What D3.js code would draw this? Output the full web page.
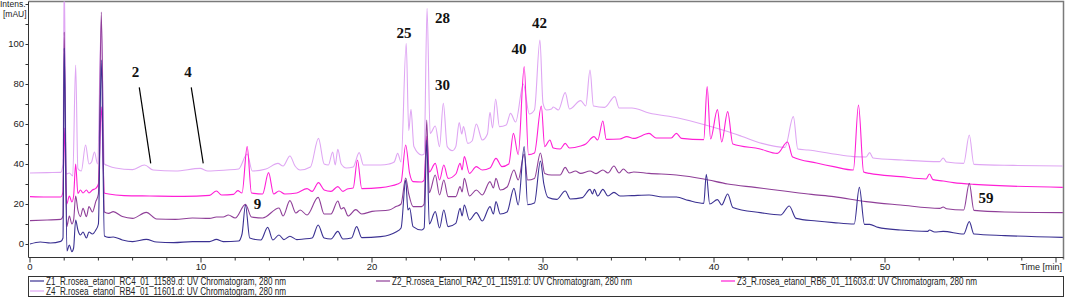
<!DOCTYPE html>
<html>
<head>
<meta charset="utf-8">
<script src="https://cdn.jsdelivr.net/npm/d3@7/dist/d3.min.js"></script>
<style>
  body { margin: 0; background: #fff; }
  svg { display: block; font-family: Arial, "Liberation Sans", sans-serif; }
</style>
</head>
<body>
<div id="chart"></div>
<script>
// legend names, in the order of the legend box
const seriesNames = [
    "Z1_R.rosea_etanol_RC4_01_11589.d: UV Chromatogram, 280 nm",
    "Z2_R.rosea_Etanol_RA2_01_11591.d: UV Chromatogram, 280 nm",
    "Z3_R.rosea_etanol_RB6_01_11603.d: UV Chromatogram, 280 nm",
    "Z4_R.rosea_etanol_RB4_01_11601.d: UV Chromatogram, 280 nm"
]
const seriesColors = ["#3b3192", "#8f3f98", "#ff1fd6", "#dfa6f3"]

// [time (min), intensity (mAU)]
const z1 = [[0,0],[0.6,1],[1.2,0.5],[1.8,1.3],[1.93,3],[2.0,98],[2.16,-3.5],[2.3,-0.5],[2.45,-3.8],[2.55,-2],[2.67,12],[2.8,7],[2.95,4.5],[3.1,6],[3.3,3],[3.45,6],[3.65,5],[3.85,7],[4.0,10],[4.17,92],[4.35,4],[4.6,3.3],[4.87,3.5],[5.4,2],[6.0,1.2],[6.8,2.3],[7.4,1],[8.4,0.7],[9.5,1.2],[10.5,1.2],[10.9,2.3],[11.3,1.2],[12.2,1.5],[12.4,5],[12.6,19.5],[12.85,3],[13.5,2],[13.9,8.3],[14.2,2],[14.56,4.5],[14.85,2.2],[15.2,3.9],[15.6,2.2],[16.0,2.5],[16.5,3],[16.85,9.5],[17.2,3],[17.6,2.5],[18.0,6.3],[18.3,2.5],[18.8,3],[19.1,8.7],[19.4,3.2],[20.5,3.7],[21.0,4.5],[21.4,6],[21.7,8],[21.97,32],[22.1,17],[22.2,18],[22.4,8.7],[22.9,7],[23.05,8],[23.2,52],[23.35,10],[23.7,16.2],[23.95,8],[24.2,17],[24.45,8.7],[24.9,10.3],[25.15,17.8],[25.27,14],[25.4,19.5],[25.7,12],[26.1,15.7],[26.45,11.5],[26.9,18.7],[27.1,15],[27.25,21.2],[27.5,15],[27.9,16],[28.3,27.8],[28.55,19.5],[28.9,48.7],[29.1,19.7],[29.5,20.5],[29.85,41.5],[30.05,30],[30.3,23.2],[30.8,22.3],[31.3,26.5],[31.6,22.5],[32.3,23.2],[32.75,27.3],[32.9,25],[33.0,27.3],[33.2,24],[33.5,27.3],[33.8,24],[34.15,25.8],[34.5,24],[35.2,24.2],[36.2,24.5],[37.0,23.5],[37.8,23.5],[38.5,21.8],[39.4,20.3],[39.55,34.8],[39.75,20],[40.2,22.2],[40.45,19.5],[40.8,25],[41.1,18.3],[42.7,15.7],[43.9,14.5],[44.4,19],[44.8,12.8],[46.0,11.5],[47.0,10.7],[48.2,10],[48.5,28.3],[48.8,9.8],[49.1,9.8],[49.6,8.3],[50.9,7],[52.5,6.3],[52.6,7],[52.9,6],[53.4,6.3],[54.6,5],[54.93,11.2],[55.2,5],[57,4.2],[60.4,3.3]]

const z2 = [[0,11.7],[1.0,12],[1.8,12.3],[1.93,14],[2.0,106],[2.15,8.7],[2.3,14],[2.45,10],[2.55,12],[2.67,24],[2.8,17],[2.95,13.7],[3.1,17.8],[3.3,13.7],[3.45,18.7],[3.65,16],[3.85,21.3],[4.0,25],[4.17,116],[4.35,16],[4.6,15.3],[4.87,16.2],[5.4,13.7],[6.0,12.8],[6.8,15.8],[7.4,12.5],[8.5,12.3],[9.5,13],[10.5,12.8],[10.9,13.5],[11.3,13.5],[11.6,14.5],[12.0,13],[12.6,19.8],[12.95,13.5],[13.6,13],[14.56,18],[14.8,14],[15.2,21.7],[15.55,15.5],[15.8,17],[16.2,14.5],[16.85,23.3],[17.2,15],[17.6,15],[18.0,21.5],[18.2,17.5],[18.35,18.2],[18.6,14],[19.05,17.2],[19.4,15],[20.0,16.3],[21.0,17],[21.4,18.7],[21.7,20],[21.97,33],[22.15,25],[22.4,18.7],[22.9,18.7],[23.05,20],[23.2,62],[23.35,25.7],[23.7,34.5],[23.95,24.5],[24.2,32],[24.45,23.7],[24.9,23.7],[25.15,28.7],[25.27,26],[25.4,32.8],[25.7,24],[26.1,27],[26.45,24.5],[26.9,31.2],[27.1,28],[27.25,32.8],[27.5,27],[27.9,28.5],[28.3,37],[28.55,32],[28.9,45],[29.1,32],[29.5,32.8],[29.85,45.5],[30.1,35.3],[30.5,34.5],[31.0,34.5],[31.3,38.3],[31.55,35.5],[31.9,36.5],[32.2,35.3],[32.75,36.5],[33.1,35.2],[33.5,37],[33.8,35.5],[34.15,39],[34.45,35.5],[34.7,37.5],[35.0,35.5],[35.3,36],[36.2,35.3],[37.8,34.5],[39.4,32.5],[40.8,30],[42.4,28.3],[44.1,26.5],[45.7,24.8],[47.0,23.7],[48.9,21.2],[50.9,19.5],[53.2,17.8],[53.4,18.5],[53.6,17.6],[54.6,17],[54.93,30.3],[55.2,16.8],[57.0,16],[60.4,15.7]]

const z3 = [[0,23.7],[1.0,23.5],[1.8,23.5],[1.93,26],[2.0,58],[2.15,20],[2.3,24],[2.45,21],[2.55,24],[2.67,40],[2.8,25.3],[2.95,27],[3.1,25.5],[3.3,27],[3.45,25.5],[3.65,27],[3.85,27.8],[4.0,30],[4.17,68.6],[4.35,25.5],[4.6,25],[5.5,24.2],[7.0,24],[9.0,23.8],[10.5,24.3],[10.9,26.5],[11.2,24.5],[11.9,24.8],[12.15,26.7],[12.4,25.5],[12.7,48.7],[12.95,25.5],[13.6,25],[13.95,35.7],[14.25,25],[14.56,26.5],[14.9,25],[15.6,25.5],[16.2,27.7],[16.5,26.3],[16.87,30.7],[17.2,27],[17.6,26.3],[18.0,28.7],[18.3,26.3],[18.55,27.5],[18.9,28],[19.15,42],[19.4,27.7],[20.5,28.2],[21.5,30],[21.7,31],[21.97,49.5],[22.2,35.3],[22.4,31.2],[22.9,31],[23.05,32],[23.2,53.7],[23.35,36],[23.7,40.3],[23.95,32],[24.2,39.5],[24.45,32.8],[24.9,35],[25.15,40.3],[25.27,37],[25.4,43.7],[25.7,35.3],[26.1,38.7],[26.45,37],[26.9,38],[27.25,42.8],[27.6,38.7],[28.0,40],[28.27,55.3],[28.55,44.7],[28.9,88.7],[29.15,44.7],[29.5,45.5],[29.9,69],[30.1,48.7],[30.4,52],[30.6,48],[31.0,47.5],[31.3,50.3],[31.55,48],[32.2,49],[32.5,50],[32.98,53.7],[33.2,52],[33.5,61.5],[33.7,52.3],[34.5,52.5],[34.9,53.7],[35.3,52.8],[36.2,55.3],[36.6,53],[37.5,53],[37.8,55.3],[38.1,52.8],[39.4,52.2],[39.6,78.7],[39.8,52.5],[40.2,67.2],[40.45,51],[40.8,66.2],[41.1,50],[42.7,47.5],[43.7,45.3],[44.3,51],[44.6,43.5],[46.0,40.5],[47.0,38.7],[48.15,37],[48.45,69.5],[48.75,36],[49.1,35.3],[50.9,33.7],[52.4,32.5],[52.6,35],[52.8,32.2],[53.4,31.5],[54.0,30.7],[55.2,29.8],[60.4,28.3]]

const z4 = [[0,35.5],[1.0,35.7],[1.8,35.8],[1.93,40],[2.0,135],[2.12,35],[2.3,35.5],[2.5,34],[2.67,89.5],[2.8,37.7],[3.0,36.5],[3.25,49.5],[3.45,40],[3.6,41],[3.77,46],[3.95,40],[4.17,112],[4.35,40],[4.6,39],[5.0,38],[6.0,37.2],[6.7,39.5],[7.2,37],[8.5,36.5],[9.95,37.8],[10.4,36.5],[11.5,37],[12.2,37.5],[12.7,45],[13.0,36.5],[13.8,37.5],[14.5,40.3],[14.8,39],[15.2,44],[15.5,39],[15.8,37],[16.4,38.5],[16.87,52.8],[17.2,40],[17.45,39.5],[17.7,46],[17.85,39.5],[18.0,47.3],[18.2,40],[18.5,38],[18.9,38.5],[19.25,45.7],[19.5,39.5],[20.5,39.5],[21.0,40],[21.3,41],[21.5,45.3],[21.7,41],[22.0,100.3],[22.15,56.7],[22.28,67.3],[22.45,48.7],[22.9,44.5],[23.05,45],[23.22,117.8],[23.4,55.3],[23.7,59],[23.95,48.7],[24.17,70.3],[24.4,48.7],[24.7,46.7],[24.9,48.7],[25.1,60.7],[25.25,55],[25.35,58.7],[25.6,50.3],[25.85,51.5],[26.1,60],[26.45,52],[26.75,55],[26.9,65.8],[27.05,58],[27.23,72.5],[27.45,58.7],[27.85,59.5],[28.1,65.3],[28.4,61],[28.85,80],[29.2,65],[29.5,67],[29.82,102],[30.0,70.3],[30.2,67],[30.5,67.5],[30.6,68.5],[30.9,67],[31.3,75.7],[31.55,67.5],[32.2,71.7],[32.5,69],[32.75,87],[32.95,69],[33.6,68.3],[34.2,73.7],[34.45,68],[35.2,68],[36.2,65.5],[37.9,63],[39.5,59.5],[40.8,56.2],[41.6,53.9],[42.8,50.3],[44.15,48.3],[44.64,63.7],[44.9,47.5],[45.5,47],[47.0,45],[48.15,43.7],[48.9,43.5],[49.1,45.7],[49.3,43],[51.0,42],[53.2,41.2],[53.4,43],[53.6,41],[54.6,40.3],[54.93,54.5],[55.2,39.8],[57.5,39.3],[60.4,39]]

// peak numbers: text anchor position in data units
const peakLabels = [
    {text: "2", t: 6.17, v: 83.5},
    {text: "4", t: 9.24, v: 83.5},
    {text: "9", t: 13.3, v: 17.3},
    {text: "25", t: 21.87, v: 103},
    {text: "28", t: 24.12, v: 110.5},
    {text: "30", t: 24.12, v: 77},
    {text: "40", t: 28.6, v: 94.8},
    {text: "42", t: 29.8, v: 107.8},
    {text: "59", t: 55.9, v: 20.6}
]
// pointer lines for peaks 2 and 4: [t1, v1, t2, v2]
const pointerLines = [[6.39, 78.3, 7.06, 40.3], [9.43, 78.3, 10.13, 40.3]]

const xMajorTicks = [0, 10, 20, 30, 40, 50, 60]
const xTickLabels = ["0", "10", "20", "30", "40", "50", ""]
const yMajorTicks = [0, 20, 40, 60, 80, 100]

function drawChromatogram() {
    const width = 1065, height = 298
    const plot = {left: 28.5, right: 1063.5, top: 1.5, bottom: 257.5}

    const svg = d3.select("#chart").append("svg")
        .attr("width", width)
        .attr("height", height)

    const x = d3.scaleLinear().domain([0, 60]).range([30, 1056])
    const y = d3.scaleLinear().domain([0, 100]).range([244, 44])

    svg.append("clipPath").attr("id", "plotClip")
        .append("rect")
        .attr("x", plot.left).attr("y", plot.top)
        .attr("width", plot.right - plot.left)
        .attr("height", plot.bottom - plot.top)

    // frame: top and right in gray
    svg.append("path")
        .attr("d", `M${plot.left},${plot.top}H${plot.right}V${plot.bottom + 2}`)
        .attr("fill", "none").attr("stroke", "#7a7a7a").attr("stroke-width", 1.5)

    // traces, lightest drawn first
    const series = [z1, z2, z3, z4]
    const line = d3.line()
        .x(d => x(d[0]))
        .y(d => y(d[1]))
        .curve(d3.curveMonotoneX)

    svg.append("g").attr("clip-path", "url(#plotClip)")
        .selectAll("path")
        .data([3, 2, 1, 0])
        .enter()
        .append("path")
        .attr("d", i => line(series[i]))
        .attr("fill", "none")
        .attr("stroke", i => seriesColors[i])
        .attr("stroke-width", 1.1)
        .attr("stroke-linejoin", "round")

    // y axis
    const yAxis = svg.append("g").attr("transform", `translate(${plot.left},0)`)
    yAxis.call(d3.axisLeft(y).tickValues(d3.range(0, 121, 10)).tickSize(3).tickFormat(""))
    yAxis.select(".domain").remove()
    yAxis.append("line")
        .attr("y1", plot.top).attr("y2", plot.bottom)
        .attr("stroke", "#333")
    yAxis.selectAll(".tick line").attr("stroke", "#333")
    yAxis.selectAll("text.lab")
        .data(yMajorTicks)
        .enter()
        .append("text")
        .attr("class", "lab")
        .attr("x", -4.5)
        .attr("y", d => y(d) + 3.3)
        .attr("text-anchor", "end")
        .attr("font-size", "9.5px")
        .attr("fill", "#222")
        .text(d => d)

    // x axis
    const xAxis = svg.append("g").attr("transform", `translate(0,${plot.bottom})`)
    xAxis.append("line")
        .attr("x1", plot.left).attr("x2", plot.right)
        .attr("stroke", "#333")
    xAxis.selectAll("line.minor")
        .data(d3.range(0, 61, 2).filter(d => d % 10 !== 0))
        .enter()
        .append("line")
        .attr("class", "minor")
        .attr("x1", d => x(d)).attr("x2", d => x(d))
        .attr("y1", 0).attr("y2", 3)
        .attr("stroke", "#333")
    xAxis.selectAll("line.major")
        .data(xMajorTicks)
        .enter()
        .append("line")
        .attr("class", "major")
        .attr("x1", d => x(d)).attr("x2", d => x(d))
        .attr("y1", 0).attr("y2", 5)
        .attr("stroke", "#333")
    xAxis.selectAll("text.lab")
        .data(xMajorTicks)
        .enter()
        .append("text")
        .attr("class", "lab")
        .attr("x", d => x(d))
        .attr("y", 12.5)
        .attr("text-anchor", "middle")
        .attr("font-size", "9.5px")
        .attr("fill", "#222")
        .text((d, i) => xTickLabels[i])
    xAxis.append("text")
        .attr("x", 1062).attr("y", 12.5)
        .attr("text-anchor", "end")
        .attr("font-size", "9px")
        .attr("fill", "#222")
        .text("Time [min]")

    // y title
    svg.append("text").attr("x", 0).attr("y", 6.5)
        .attr("font-size", "8.5px").attr("fill", "#222").text("Intens.")
    svg.append("text").attr("x", 3).attr("y", 17)
        .attr("font-size", "8.5px").attr("fill", "#222").text("[mAU]")

    // peak annotations
    svg.selectAll("line.pointer")
        .data(pointerLines)
        .enter()
        .append("line")
        .attr("class", "pointer")
        .attr("x1", d => x(d[0])).attr("y1", d => y(d[1]))
        .attr("x2", d => x(d[2])).attr("y2", d => y(d[3]))
        .attr("stroke", "#000").attr("stroke-width", 1.2)
    svg.selectAll("text.peak")
        .data(peakLabels)
        .enter()
        .append("text")
        .attr("class", "peak")
        .attr("x", d => x(d.t))
        .attr("y", d => y(d.v))
        .attr("text-anchor", "middle")
        .attr("font-family", "'Liberation Serif', 'Times New Roman', serif")
        .attr("font-weight", "bold")
        .attr("font-size", "15px")
        .attr("fill", "#111")
        .text(d => d.text)

    // legend box
    svg.append("rect")
        .attr("x", 28.5).attr("y", 276.5)
        .attr("width", 1035).attr("height", 20)
        .attr("fill", "none").attr("stroke", "#333")

    const legendPos = [[30, 281], [376, 281], [721, 281], [30, 291]]
    const entries = svg.selectAll("g.legend")
        .data(seriesNames)
        .enter()
        .append("g")
        .attr("class", "legend")
        .attr("transform", (d, i) => `translate(${legendPos[i][0]},${legendPos[i][1]})`)
    entries.append("line")
        .attr("x1", 0).attr("x2", 14)
        .attr("stroke", (d, i) => seriesColors[i])
        .attr("stroke-width", 1.2)
    entries.append("text")
        .attr("x", 16).attr("y", 3.5)
        .attr("font-size", "10px")
        .attr("fill", "#222")
        .attr("textLength", 240)
        .attr("lengthAdjust", "spacingAndGlyphs")
        .text(d => d)
}

drawChromatogram()
</script>
</body>
</html>
